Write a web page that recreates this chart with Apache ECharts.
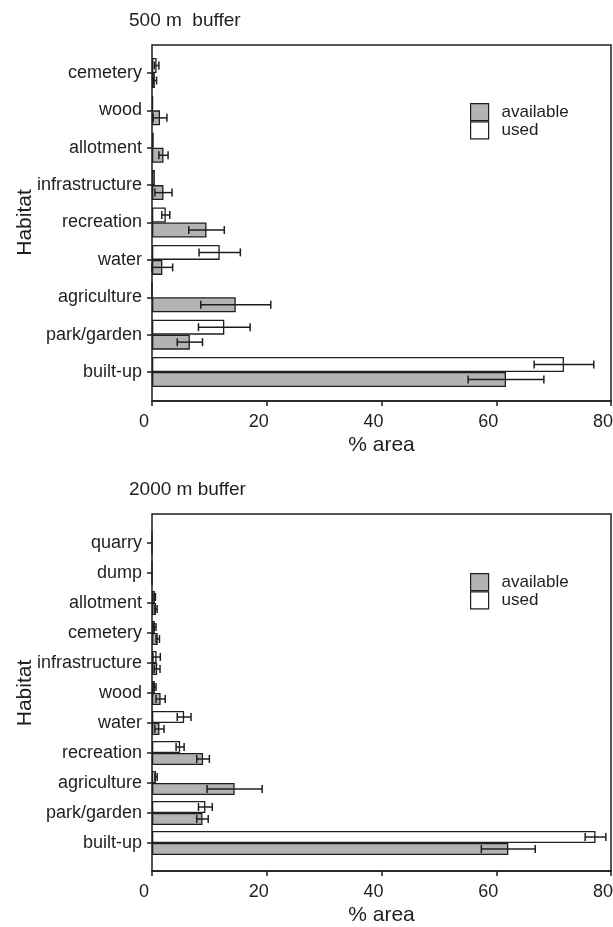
<!DOCTYPE html>
<html><head><meta charset="utf-8">
<script src="https://cdn.jsdelivr.net/npm/echarts@6/dist/echarts.min.js"></script>
<style>html,body{margin:0;padding:0;background:#fff}#c{width:613px;height:927px}</style>
</head><body><div id="c"></div>
<script>
// ---- data (listed top to bottom as in the figure) ----
const cats500 = ['cemetery','wood','allotment','infrastructure','recreation','water','agriculture','park/garden','built-up'];
const used500 = [0.8, 0.2, 0.3, 0.5, 2.4, 11.8, 0, 12.6, 71.8];
const usedErr500 = [0.4, 0, 0, 0, 0.7, 3.6, 0, 4.5, 5.2];
const avail500 = [0.5, 1.4, 2.0, 2.0, 9.5, 1.8, 14.6, 6.6, 61.7];
const availErr500 = [0.3, 1.2, 0.8, 1.5, 3.1, 1.8, 6.1, 2.2, 6.6];

const cats2000 = ['quarry','dump','allotment','cemetery','infrastructure','wood','water','recreation','agriculture','park/garden','built-up'];
const used2000 = [0, 0, 0.5, 0.5, 0.8, 0.5, 5.6, 4.9, 0.7, 9.3, 77.3];
const usedErr2000 = [0, 0, 0.1, 0.2, 0.65, 0.2, 1.2, 0.7, 0.2, 1.2, 1.8];
const avail2000 = [0, 0, 0.7, 1.0, 0.9, 1.5, 1.3, 8.9, 14.4, 8.8, 62.1];
const availErr2000 = [0, 0, 0.2, 0.3, 0.5, 0.8, 0.8, 1.1, 4.8, 1.0, 4.7];

const xTicks = [0, 20, 40, 60, 80];
const titles = ['500 m  buffer', '2000 m buffer'];

// ---- styles ----
const FONT = '"Liberation Sans", Arial, sans-serif';
const INK = '#1e1e1e';
const GRAY = '#b3b3b3';

const chart = echarts.init(document.getElementById('c'));

function errSeries(name, xi, yi, vals, errs, side, bw) {
  return {
    type: 'custom', name: name, xAxisIndex: xi, yAxisIndex: yi, z: 5, silent: true,
    data: vals.map((v, i) => [v - errs[i], v + errs[i], i, errs[i]]),
    encode: { x: [0, 1], y: 2 },
    renderItem(params, api) {
      if (!api.value(3)) return;
      const lo = api.coord([api.value(0), api.value(2)]);
      const hi = api.coord([api.value(1), api.value(2)]);
      const y = lo[1] + side * bw / 2;
      const c = 4;
      const st = { stroke: INK, lineWidth: 1.5 };
      return { type: 'group', children: [
        { type: 'line', shape: { x1: lo[0], y1: y, x2: hi[0], y2: y }, style: st },
        { type: 'line', shape: { x1: lo[0], y1: y - c, x2: lo[0], y2: y + c }, style: st },
        { type: 'line', shape: { x1: hi[0], y1: y - c, x2: hi[0], y2: y + c }, style: st }
      ]};
    }
  };
}

function barSeries(name, xi, yi, vals, color, bw) {
  return {
    type: 'bar', name: name, xAxisIndex: xi, yAxisIndex: yi, data: vals,
    barWidth: bw, barGap: '0%',
    itemStyle: { color: color, borderColor: INK, borderWidth: 1.3 },
    emphasis: { disabled: true }
  };
}

const lineSt = { color: INK, width: 1.5 };
function frameX(gi) {
  return {
    gridIndex: gi, type: 'value', min: xTicks[0], max: xTicks[xTicks.length - 1], interval: 20,
    axisLine: { show: true, lineStyle: lineSt },
    axisTick: { show: true, length: 5, lineStyle: lineSt },
    axisLabel: { fontSize: 18, color: INK, fontFamily: FONT, margin: 12, padding: [0, 16, 0, 0] },
    splitLine: { show: false },
    name: '% area', nameLocation: 'middle', nameGap: 34, nameMoveOverlap: false,
    nameTextStyle: { fontSize: 21, color: INK, fontFamily: FONT }
  };
}
function hiddenX(gi) {
  return { gridIndex: gi, type: 'value', min: 0, max: 80, show: false, splitLine: { show: false } };
}
function catY(gi, cats) {
  return {
    gridIndex: gi, type: 'category', data: cats, inverse: true,
    axisLine: { show: false },
    axisTick: { show: true, alignWithLabel: true, length: 5, lineStyle: lineSt },
    axisLabel: { fontSize: 18, color: INK, fontFamily: FONT, margin: 10, interval: 0 },
    name: 'Habitat', nameLocation: 'middle', nameGap: 116, nameRotate: 90, nameMoveOverlap: false,
    nameTextStyle: { fontSize: 21, color: INK, fontFamily: FONT }
  };
}

function legendAt(top) {
  return {
    left: 470, top: top, orient: 'vertical', icon: 'rect', itemWidth: 18, itemHeight: 17, itemGap: 0,
    padding: 0, selectedMode: false,
    data: [
      { name: 'available', itemStyle: { color: GRAY, borderColor: INK, borderWidth: 1.2 } },
      { name: 'used', itemStyle: { color: '#fff', borderColor: INK, borderWidth: 1.2 } }
    ],
    textStyle: { fontSize: 17, color: INK, fontFamily: FONT, padding: [0, 0, 0, 8] }
  };
}

const BW1 = 15, BW2 = 12;
const gridBase = { left: 152, right: 2, outerBoundsMode: 'none', containLabel: false };

chart.setOption({
  animation: false,
  backgroundColor: '#fff',
  textStyle: { fontFamily: FONT },
  title: [
    { text: titles[0], left: 129, top: 11, padding: 0, textStyle: { fontSize: 19, fontWeight: 'normal', color: INK, fontFamily: FONT } },
    { text: titles[1], left: 129, top: 480, padding: 0, textStyle: { fontSize: 19, fontWeight: 'normal', color: INK, fontFamily: FONT } }
  ],
  legend: [legendAt(103), legendAt(573)],
  grid: [
    Object.assign({ top: 45, height: 356, show: true, borderColor: INK, borderWidth: 1.5 }, gridBase),
    Object.assign({ top: 54.3, height: 336.4 }, gridBase),
    Object.assign({ top: 514, height: 357, show: true, borderColor: INK, borderWidth: 1.5 }, gridBase),
    Object.assign({ top: 528, height: 330 }, gridBase)
  ],
  xAxis: [frameX(0), hiddenX(1), frameX(2), hiddenX(3)],
  yAxis: [
    { gridIndex: 0, type: 'value', show: false },
    catY(1, cats500),
    { gridIndex: 2, type: 'value', show: false },
    catY(3, cats2000)
  ],
  series: [
    barSeries('used', 1, 1, used500, '#fff', BW1),
    barSeries('available', 1, 1, avail500, GRAY, BW1),
    errSeries('used_err500', 1, 1, used500, usedErr500, -1, BW1),
    errSeries('avail_err500', 1, 1, avail500, availErr500, 1, BW1),
    barSeries('used', 3, 3, used2000, '#fff', BW2),
    barSeries('available', 3, 3, avail2000, GRAY, BW2),
    errSeries('used_err2000', 3, 3, used2000, usedErr2000, -1, BW2),
    errSeries('avail_err2000', 3, 3, avail2000, availErr2000, 1, BW2)
  ]
});
</script></body></html>
